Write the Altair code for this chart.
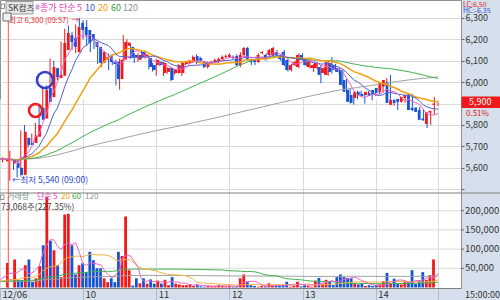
import altair as alt
import numpy as np
import pandas as pd

# ---------------- data (3-minute candles, 09:00 = index 0) ----------------
opens = [5620, 5625, 5600, 5567, 5740, 5716, 5716, 5745, 5880, 5830,
         5973, 5930, 6066, 6020, 6030, 6150, 6220, 6206, 6140, 6277,
         6258, 6244, 6225, 6188, 6165, 6090, 6105, 6127, 6094, 6095,
         6015, 6105, 6170, 6165, 6127, 6104, 6141, 6118, 6113, 6080,
         6080, 6094, 6043, 6048, 6066, 6043, 6043, 6043, 6085, 6090,
         6094, 6122, 6113, 6094, 6071, 6090, 6094, 6094, 6108, 6118,
         6118, 6118, 6122, 6080, 6127, 6160, 6104, 6104, 6094, 6136,
         6127, 6127, 6127, 6141, 6122, 6141, 6104, 6057, 6080, 6071,
         6127, 6104, 6071, 6066, 6066, 6071, 6043, 6034, 6090, 6080,
         6066, 6057, 6010, 5964, 5940, 5926, 5955, 5945, 5940, 5950,
         5964, 5973, 5955, 5980, 6001, 5894, 5917, 5922, 5908, 5926,
         5940, 5880, 5880, 5870, 5830, 5805, 5858, 5895]
highs = [5680, 5640, 5610, 5775, 5800, 5740, 5760, 5810, 5890, 5975,
         5985, 6110, 6100, 6045, 6190, 6250, 6265, 6235, 6270, 6300,
         6290, 6290, 6235, 6195, 6180, 6150, 6130, 6135, 6100, 6105,
         6110, 6220, 6200, 6180, 6135, 6135, 6150, 6140, 6120, 6090,
         6110, 6100, 6095, 6070, 6070, 6060, 6085, 6095, 6100, 6105,
         6125, 6130, 6120, 6100, 6095, 6100, 6110, 6115, 6125, 6130,
         6135, 6125, 6130, 6140, 6165, 6165, 6110, 6110, 6135, 6145,
         6135, 6155, 6165, 6150, 6130, 6150, 6110, 6085, 6100, 6135,
         6135, 6110, 6105, 6085, 6095, 6080, 6070, 6100, 6118, 6085,
         6070, 6060, 6015, 5970, 5945, 5960, 5960, 5950, 5960, 5955,
         5970, 5980, 6000, 6020, 6034, 5920, 5920, 5925, 5935, 5945,
         5945, 5885, 5885, 5875, 5835, 5865, 5931, 5905]
lows = [5540, 5590, 5555, 5560, 5700, 5695, 5710, 5740, 5800, 5825,
        5895, 5920, 5945, 6010, 6020, 6140, 6160, 6150, 6135, 6240,
        6200, 6170, 6140, 6155, 6085, 6070, 6095, 6057, 6080, 5985,
        5965, 6100, 6160, 6110, 6090, 6095, 6110, 6110, 6060, 6050,
        6030, 6075, 6030, 6040, 6005, 6035, 6040, 6030, 6080, 6085,
        6090, 6085, 6095, 6065, 6065, 6085, 6090, 6090, 6100, 6113,
        6113, 6108, 6075, 6070, 6120, 6100, 6080, 6080, 6090, 6130,
        6100, 6120, 6120, 6120, 6100, 6075, 6050, 6050, 6075, 6065,
        6100, 6075, 6065, 6048, 6060, 5995, 6035, 6030, 6040, 6050,
        6040, 5980, 5950, 5900, 5895, 5920, 5935, 5900, 5935, 5915,
        5935, 5945, 5950, 5975, 5895, 5890, 5870, 5905, 5905, 5920,
        5865, 5865, 5855, 5820, 5786, 5800, 5850, 5890]
closes = [5640, 5600, 5567, 5768, 5707, 5707, 5750, 5800, 5825, 5964,
          5908, 6071, 6024, 6034, 6183, 6230, 6188, 6165, 6258, 6244,
          6220, 6183, 6195, 6165, 6090, 6141, 6118, 6094, 6085, 6015,
          6105, 6188, 6185, 6118, 6118, 6127, 6118, 6130, 6071, 6057,
          6104, 6080, 6090, 6066, 6010, 6057, 6080, 6090, 6094, 6100,
          6118, 6090, 6100, 6071, 6090, 6094, 6104, 6108, 6118, 6122,
          6127, 6113, 6080, 6127, 6160, 6108, 6094, 6094, 6127, 6141,
          6108, 6150, 6160, 6127, 6108, 6080, 6057, 6080, 6094, 6127,
          6104, 6080, 6099, 6080, 6090, 6034, 6066, 6094, 6048, 6057,
          6048, 5987, 5955, 5908, 5903, 5955, 5940, 5935, 5955, 5935,
          5940, 5950, 5996, 6010, 5903, 5917, 5903, 5908, 5931, 5940,
          5870, 5870, 5861, 5824, 5822, 5860, 5866, 5900]
volumes = [73000, 20000, 19000, 58000, 73000, 14000, 24000, 56000, 110000, 235000,
           122000, 97000, 58000, 27000, 190000, 192000, 110000, 34000, 58000, 63000,
           40000, 93000, 71000, 50000, 50000, 24000, 14000, 24000, 14000, 93000,
           82000, 185000, 45000, 5000, 24000, 11000, 24000, 10000, 21000, 10000,
           18000, 10000, 20000, 6000, 27000, 10000, 8000, 6000, 6000, 8000,
           4000, 8000, 3000, 2000, 4000, 3000, 4000, 6000, 4000, 3000,
           4000, 2000, 3000, 24000, 34000, 14000, 6000, 4000, 2000, 4000,
           3000, 11000, 4000, 4000, 4000, 6000, 15000, 2000, 4000, 15000,
           3000, 6000, 4000, 2000, 18000, 25000, 10000, 20000, 15000, 6000,
           27000, 34000, 27000, 25000, 24000, 10000, 8000, 9000, 4000, 6000,
           4000, 6000, 8000, 17000, 38000, 10000, 23000, 10000, 8000, 14000,
           14000, 45000, 9000, 18000, 40000, 20000, 32139, 73068]

# previous session (only its last bar is visible at the left edge)
prev_index = -2
prev_open, prev_high, prev_low, prev_close, prev_volume = 5630, 5650, 5625, 5640, 64000
prior_close = 5640
prior_volume = 15000
prior_bars = 120

hour_ticks = [-2.68, 20, 40, 60, 80, 100, 117]
price_ticks = [5500, 5600, 5700, 5800, 5900, 6000, 6100, 6200, 6300]
volume_ticks = [50000, 100000, 150000, 200000]
day_start = [-0.41]

circle_i = [9.61, 7.02]
circle_price = [6010, 5868]
circle_size = [256, 169]
circle_color = ["#3a40c8", "#ee1c24"]

RED = "#f01818"
BLUE = "#1652d4"
W, H = 461, 288
FONT = "Noto Sans CJK KR"

# ---------------- frames ----------------
n = len(closes)
day = pd.DataFrame({"i": list(range(n)), "open": opens, "high": highs,
                    "low": lows, "close": closes, "volume": volumes})
prev = pd.DataFrame({"i": [prev_index], "open": [prev_open], "high": [prev_high],
                     "low": [prev_low], "close": [prev_close], "volume": [prev_volume]})
pad_idx = list(range(prev_index - prior_bars, prev_index))
pad = pd.DataFrame({"i": pad_idx, "open": prior_close, "high": prior_close,
                    "low": prior_close, "close": prior_close, "volume": prior_volume})
full = pd.concat([pad, prev, day]).sort_values("i").reset_index(drop=True)
for w in (5, 10, 20, 60, 120):
    full[f"ma{w}"] = full["close"].rolling(w).mean()
for w in (5, 20, 60, 120):
    full[f"vma{w}"] = full["volume"].rolling(w).mean()
full["col"] = np.where(full["close"] >= full["open"], RED, BLUE)
bars = full[full["i"] >= prev_index].copy()
lines = full[full["i"] >= prev_index - 1].copy()

# ---------------- scales ----------------
xs = alt.Scale(domain=[-2.68, 123.28], nice=False, zero=False)
ps = alt.Scale(domain=[5500, 6384], range=[189.2, 0], nice=False, zero=False)
vs = alt.Scale(domain=[0, 243000], range=[287.5, 194.2], nice=False)

x_axis = alt.Axis(values=hour_ticks, grid=True, gridColor="#dadada",
                  labelExpr="datum.value < 0 ? '12/06' : (datum.value > 110 ? '' : format(datum.value / 20 + 9, 'd'))",
                  tickSize=12, tickColor="#b0bccb", labelPadding=-11, labelAlign="left",
                  labelBaseline="top", labelOffset=2, labelFontSize=9.5, labelColor="#333333",
                  labelFont=FONT, domainColor="#808080", title=None, labelFlush=False,
                  labelOverlap=False, labelBound=False)
p_axis = alt.Axis(orient="right", values=price_ticks, grid=True, gridColor="#dadada",
                  labelExpr="(datum.value < 5550 || datum.value == 5900) ? '' : format(datum.value, ',')",
                  tickSize=3, tickColor="#666666", labelFontSize=9, labelPadding=1,
                  labelColor="#333333", labelFont=FONT, domain=False, title=None,
                  labelOverlap=False, labelFlush=False)


def X(field="i", axis=None):
    return alt.X(f"{field}:Q", scale=xs, axis=axis)


def PY(field, axis=None):
    return alt.Y(f"{field}:Q", scale=ps, axis=axis)


def VY(field):
    return alt.Y(f"{field}:Q", scale=vs, axis=None)


layers = []

# volume grid, ticks, labels
vt = pd.DataFrame({"v": volume_ticks})
layers.append(alt.Chart(vt).mark_rule(color="#dadada").encode(
    y=VY("v"), x=alt.value(0), x2=alt.value(W)))
layers.append(alt.Chart(vt).mark_rule(color="#666666").encode(
    y=VY("v"), x=alt.value(W), x2=alt.value(W + 3)))
layers.append(alt.Chart(vt).mark_text(align="left", baseline="middle", fontSize=9.5,
                                      color="#333333", font=FONT).encode(
    y=VY("v"), x=alt.value(W + 4), text=alt.Text("v:Q", format=",")))

# candles
layers.append(alt.Chart(bars).mark_rule(strokeWidth=1, clip=True).encode(
    x=X("i", x_axis), y=PY("low", p_axis), y2="high:Q",
    color=alt.Color("col:N", scale=None)))
layers.append(alt.Chart(bars).mark_bar(size=2.8, clip=True).encode(
    x=X(), y=PY("open"), y2="close:Q", color=alt.Color("col:N", scale=None)))

# price moving averages
for field, colr, sw in [("ma120", "#a0a0a0", 1), ("ma60", "#40b050", 1),
                        ("ma20", "#f0a010", 1.5), ("ma10", "#5060d0", 1),
                        ("ma5", "#f060c8", 1)]:
    layers.append(alt.Chart(lines).mark_line(color=colr, strokeWidth=sw, clip=True).encode(
        x=X(), y=PY(field)))

# volume bars and averages
layers.append(alt.Chart(bars).mark_bar(size=2.8, clip=True).encode(
    x=X(), y=VY("volume"), color=alt.Color("col:N", scale=None)))
for field, colr in [("vma120", "#a0a0a0"), ("vma60", "#40b050"),
                    ("vma20", "#f8b040"), ("vma5", "#f060c8")]:
    layers.append(alt.Chart(lines).mark_line(color=colr, strokeWidth=1, clip=True).encode(
        x=X(), y=VY(field)))

# session start marker
layers.append(alt.Chart(pd.DataFrame({"i": day_start})).mark_rule(color="#ff5050").encode(
    x=X(), y=alt.value(20), y2=alt.value(H)))

# circle annotations
circ = pd.DataFrame({"i": circle_i, "p": circle_price, "s": circle_size, "c": circle_color})
layers.append(alt.Chart(circ).mark_point(filled=False, shape="circle", strokeWidth=2.6,
                                         opacity=1).encode(
    x=X(), y=PY("p"), size=alt.Size("s:Q", scale=None), color=alt.Color("c:N", scale=None)))

# high / low notes (text starts after the session marker, arrow points at the high bar)
hi_txt = pd.DataFrame({"i": [-0.2], "p": [6286], "t": ["최고 6,300 (09:57)"]})
hi_arr = pd.DataFrame({"i": [19.0], "p": [6286], "t": ["→"]})
lo = pd.DataFrame({"i": [0.6], "p": [5545], "t": ["←최저 5,540 (09:00)"]})
layers.append(alt.Chart(hi_txt).mark_text(align="left", baseline="middle", fontSize=7.5,
                                          color="#e82828", font=FONT).encode(
    x=X(), y=PY("p"), text="t:N"))
layers.append(alt.Chart(hi_arr).mark_text(align="right", baseline="middle", fontSize=8,
                                          color="#e82828", font=FONT).encode(
    x=X(), y=PY("p"), text="t:N"))
layers.append(alt.Chart(lo).mark_text(align="left", baseline="middle", fontSize=8.5,
                                      color="#2848d0", font=FONT).encode(
    x=X(), y=PY("p"), text="t:N"))

# panel separator
layers.append(alt.Chart(pd.DataFrame({"a": [0]})).mark_rule(color="#808080").encode(
    x=alt.value(0), x2=alt.value(500), y=alt.value(193)))

# decorative boxes
boxes = pd.DataFrame({
    "x": [6, 1, 3, 462, 0.5, 36],
    "x2": [33, 4.5, 11, 500, 4, 39],
    "y": [1.5, 4, 13, 97, 195, 5],
    "y2": [14, 8.5, 21, 107.5, 199.5, 9],
    "f": ["#e4e4e4", "#ffffff", "#f0f0f0", "#f01818", "#ffffff", "#c8a8e0"],
    "s": ["#a0a0a0", "#909090", "#707070", "#f01818", "#909090", "#c8a8e0"],
})
layers.append(alt.Chart(boxes).mark_rect(strokeWidth=1).encode(
    x=alt.X("x:Q", scale=None, axis=None), x2="x2:Q",
    y=alt.Y("y:Q", scale=None, axis=None), y2="y2:Q",
    fill=alt.Fill("f:N", scale=None), stroke=alt.Stroke("s:N", scale=None)))

# texts
labels = pd.DataFrame([
    ("SK컴즈", 8, 8, "#333333", 8.5),
    ("종가", 40, 8, "#e040b0", 9),
    ("단순", 59, 8, "#e040b0", 9),
    ("5", 77, 8, "#e040b0", 9),
    ("10", 85, 8, "#3050d0", 9),
    ("20", 98, 8, "#f0a000", 9),
    ("60", 111, 8, "#30a040", 9),
    ("120", 123, 8, "#909090", 9),
    ("거래량", 7, 197, "#6f9080", 8),
    ("단순", 37, 197, "#e040b0", 8),
    ("5", 53, 197, "#e040b0", 8),
    ("20", 61, 197, "#f0a000", 8),
    ("60", 72, 197, "#30a040", 8),
    ("120", 85, 197, "#909090", 8),
    ("73,068주(227.35%)", 1, 207, "#404048", 8.5),
    ("LC:6,50", 463, 4.8, "#e02020", 7),
    ("HC:-6.35", 463, 11, "#3050d0", 7),
    ("5,900", 469, 102.3, "#ffffff", 9),
    ("0.51%", 466, 114, "#e02020", 8),
    ("15:00:00", 465, 294.5, "#333333", 9),
], columns=["t", "x", "y", "c", "fs"])
layers.append(alt.Chart(labels).mark_text(align="left", baseline="middle", font=FONT).encode(
    x=alt.X("x:Q", scale=None, axis=None), y=alt.Y("y:Q", scale=None, axis=None),
    text="t:N", color=alt.Color("c:N", scale=None), size=alt.Size("fs:Q", scale=None)))

chart = alt.layer(*layers).resolve_scale(x="independent", y="independent").properties(
    width=W, height=H,
    autosize=alt.AutoSizeParams(type="none"),
    padding={"left": 0, "top": 0, "right": 39, "bottom": 12},
    background="#d5e0ec",
).configure_view(fill="white", stroke="#909090", strokeWidth=1)

chart.save("out.html", embed_options={"renderer": "svg", "actions": False})
